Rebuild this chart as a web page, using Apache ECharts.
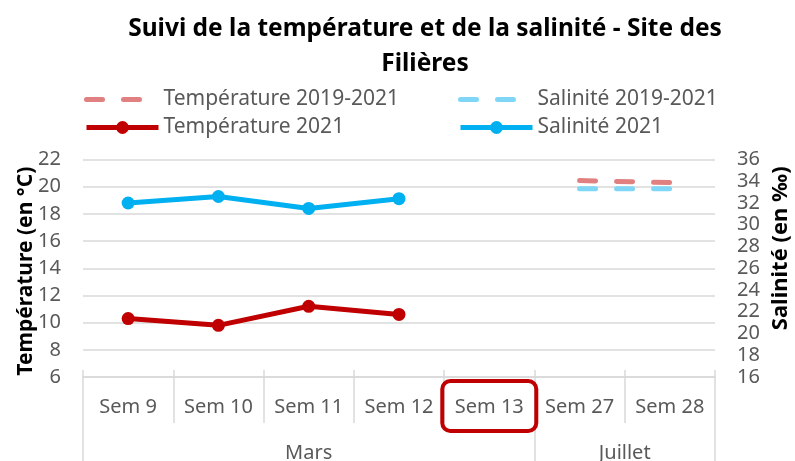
<!DOCTYPE html>
<html>
<head>
<meta charset="utf-8">
<script src="https://cdn.jsdelivr.net/npm/echarts@6/dist/echarts.min.js"></script>
<style>
  html, body { margin: 0; padding: 0; background: #fff; }
  #chart { width: 795px; height: 461px; }
</style>
</head>
<body>
<div id="chart"></div>
<script>
  // semaines relevées
  var categories = ['Sem 9', 'Sem 10', 'Sem 11', 'Sem 12', 'Sem 13', 'Sem 27', 'Sem 28'];
  // regroupement par mois (début, fin en index de catégorie)
  var months = ['Mars', 'Juillet'];
  var monthBounds = [0, 5, 7];
  // moyennes 2019-2021
  var tempMoy = [null, null, null, null, null, 20.45, 20.3];
  var salMoy = [null, null, null, null, null, 33.3, 33.3];
  // relevés 2021
  var temp2021 = [10.3, 9.8, 11.2, 10.6, null, null, null];
  var sal2021 = [32.0, 32.6, 31.5, 32.4, null, null, null];
  var highlighted = 'Sem 13';

  var FONT = 'Noto Sans';
  var GREY = '#595959';
  var GRID = '#D9D9D9';

  var myChart = echarts.init(document.getElementById('chart'));

  var monthCenters = [];
  for (var i = 0; i < months.length; i++) {
    monthCenters.push((monthBounds[i] + monthBounds[i + 1]) / 2);
  }

  var legendText = {fontFamily: FONT, fontSize: 21, color: GREY};
  var hideDot = {opacity: 0};

  myChart.setOption({
    animation: false,
    title: {
      text: 'Suivi de la température et de la salinité - Site des\nFilières',
      left: 425,
      textAlign: 'center',
      top: 12,
      padding: 0,
      textStyle: {
        fontFamily: FONT,
        fontSize: 24.5,
        fontWeight: 'bold',
        color: '#000',
        lineHeight: 35
      }
    },
    legend: [
      {
        orient: 'vertical',
        left: 79,
        top: 84,
        itemWidth: 72,
        itemHeight: 16,
        itemGap: 7,
        lineStyle: {width: 5},
        data: [
          {name: 'Température 2019-2021', itemStyle: hideDot},
          'Température 2021'
        ],
        textStyle: legendText
      },
      {
        orient: 'vertical',
        left: 453,
        top: 84,
        itemWidth: 72,
        itemHeight: 16,
        itemGap: 7,
        lineStyle: {width: 5},
        data: [
          {name: 'Salinité 2019-2021', itemStyle: hideDot},
          'Salinité 2021'
        ],
        textStyle: legendText
      }
    ],
    grid: {left: 83, right: 80, top: 159.5, bottom: 84, outerBoundsMode: 'none'},
    xAxis: [
      {
        type: 'category',
        data: categories,
        boundaryGap: true,
        axisLine: {lineStyle: {color: GRID, width: 1.5}},
        axisTick: {show: true, interval: 0, length: 46, lineStyle: {color: GRID, width: 1.5}},
        axisLabel: {interval: 0, margin: 20, fontFamily: FONT, fontSize: 20, color: GREY}
      },
      {
        // second niveau : mois
        type: 'value',
        position: 'bottom',
        min: 0,
        max: 7,
        axisLine: {show: false},
        splitLine: {show: false},
        axisTick: {show: true, customValues: monthBounds, length: 90, lineStyle: {color: GRID, width: 1.5}},
        axisLabel: {
          customValues: monthCenters,
          margin: 66,
          fontFamily: FONT,
          fontSize: 20,
          color: GREY,
          formatter: function (v) {
            var k = monthCenters.indexOf(v);
            return k >= 0 ? months[k] : '';
          }
        }
      },
      {
        // petites graduations au-dessus de l'axe
        type: 'value',
        position: 'bottom',
        min: 0,
        max: 7,
        interval: 1,
        axisLine: {show: false},
        splitLine: {show: false},
        axisLabel: {show: false},
        axisTick: {show: true, inside: true, length: 7, lineStyle: {color: GRID, width: 1.5}}
      }
    ],
    yAxis: [
      {
        type: 'value',
        min: 6,
        max: 22,
        interval: 2,
        name: 'Température (en °C)',
        nameLocation: 'middle',
        nameRotate: 90,
        nameGap: 46,
        nameMoveOverlap: false,
        nameTextStyle: {fontFamily: FONT, fontSize: 21, fontWeight: 'bold', color: '#000', padding: [0, 6, 0, 0]},
        axisLine: {show: false},
        axisTick: {show: false},
        axisLabel: {margin: 22, fontFamily: FONT, fontSize: 20, color: GREY},
        splitLine: {lineStyle: {color: GRID, width: 1.5}}
      },
      {
        type: 'value',
        min: 16,
        max: 36,
        interval: 2,
        position: 'right',
        name: '\u00a0\u00a0\u00a0\u00a0\u00a0\u00a0\u00a0Salinité (en ‰)',
        nameLocation: 'middle',
        nameRotate: 90,
        nameGap: 55,
        nameMoveOverlap: false,
        nameTextStyle: {fontFamily: FONT, fontSize: 22, fontWeight: 'bold', color: '#000'},
        axisLine: {show: false},
        axisTick: {show: false},
        axisLabel: {margin: 22, fontFamily: FONT, fontSize: 20, color: GREY},
        splitLine: {show: false}
      }
    ],
    series: [
      {
        name: 'Température 2019-2021',
        type: 'line',
        yAxisIndex: 0,
        data: tempMoy,
        symbol: 'none',
        itemStyle: {color: '#E08080'},
        lineStyle: {color: '#E08080', width: 5, type: [16, 21], cap: 'round'}
      },
      {
        name: 'Salinité 2019-2021',
        type: 'line',
        yAxisIndex: 1,
        data: salMoy,
        symbol: 'none',
        itemStyle: {color: '#7FD6F6'},
        lineStyle: {color: '#7FD6F6', width: 5, type: [16, 21], cap: 'round'}
      },
      {
        name: 'Température 2021',
        type: 'line',
        yAxisIndex: 0,
        data: temp2021,
        symbol: 'circle',
        symbolSize: 13,
        itemStyle: {color: '#C00000'},
        lineStyle: {color: '#C00000', width: 5}
      },
      {
        name: 'Salinité 2021',
        type: 'line',
        yAxisIndex: 1,
        data: sal2021,
        symbol: 'circle',
        symbolSize: 13,
        itemStyle: {color: '#00B0F0'},
        lineStyle: {color: '#00B0F0', width: 5}
      }
    ]
  });

  // cadre rouge autour de la semaine mise en avant
  var px = myChart.convertToPixel({xAxisIndex: 0}, highlighted);
  var bottomY = myChart.convertToPixel({yAxisIndex: 0}, 6);
  myChart.setOption({
    graphic: [{
      type: 'rect',
      shape: {x: px - 47, y: bottomY + 4, width: 94, height: 50, r: 8},
      style: {fill: 'none', stroke: '#C00000', lineWidth: 4},
      z: 100
    }]
  });
</script>
</body>
</html>
